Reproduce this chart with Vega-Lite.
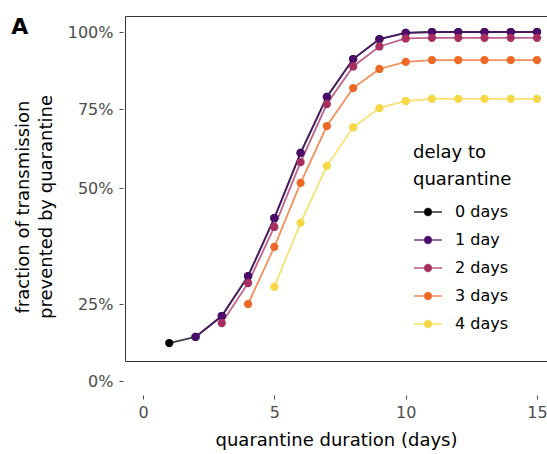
{
  "$schema": "https://vega.github.io/schema/vega-lite/v6.json",
  "autosize": {"type": "none"},
  "padding": {"left": 125, "top": 16, "right": 0, "bottom": 93},
  "width": 422,
  "height": 345,
  "config": {
    "font": "DejaVu Sans",
    "view": {"stroke": "#333333", "strokeWidth": 1}
  },
  "title": {
    "text": "A",
    "anchor": "start",
    "frame": "bounds",
    "orient": "top",
    "offset": 0,
    "dy": 23,
    "dx": -3,
    "fontSize": 22,
    "fontWeight": "bold",
    "color": "#000000"
  },
  "data": {
    "values": [
      {"d": 1, "delay": "0 days", "frac": 0.123},
      {"d": 2, "delay": "0 days", "frac": 0.143},
      {"d": 3, "delay": "0 days", "frac": 0.211},
      {"d": 4, "delay": "0 days", "frac": 0.31},
      {"d": 5, "delay": "0 days", "frac": 0.435},
      {"d": 6, "delay": "0 days", "frac": 0.611},
      {"d": 7, "delay": "0 days", "frac": 0.789},
      {"d": 8, "delay": "0 days", "frac": 0.912},
      {"d": 9, "delay": "0 days", "frac": 0.977},
      {"d": 10, "delay": "0 days", "frac": 0.997},
      {"d": 11, "delay": "0 days", "frac": 1.0},
      {"d": 12, "delay": "0 days", "frac": 1.0},
      {"d": 13, "delay": "0 days", "frac": 1.0},
      {"d": 14, "delay": "0 days", "frac": 1.0},
      {"d": 15, "delay": "0 days", "frac": 1.0},
      {"d": 2, "delay": "1 day", "frac": 0.143},
      {"d": 3, "delay": "1 day", "frac": 0.211},
      {"d": 4, "delay": "1 day", "frac": 0.31},
      {"d": 5, "delay": "1 day", "frac": 0.435},
      {"d": 6, "delay": "1 day", "frac": 0.611},
      {"d": 7, "delay": "1 day", "frac": 0.789},
      {"d": 8, "delay": "1 day", "frac": 0.912},
      {"d": 9, "delay": "1 day", "frac": 0.977},
      {"d": 10, "delay": "1 day", "frac": 0.997},
      {"d": 11, "delay": "1 day", "frac": 1.0},
      {"d": 12, "delay": "1 day", "frac": 1.0},
      {"d": 13, "delay": "1 day", "frac": 1.0},
      {"d": 14, "delay": "1 day", "frac": 1.0},
      {"d": 15, "delay": "1 day", "frac": 1.0},
      {"d": 3, "delay": "2 days", "frac": 0.188},
      {"d": 4, "delay": "2 days", "frac": 0.295},
      {"d": 5, "delay": "2 days", "frac": 0.416},
      {"d": 6, "delay": "2 days", "frac": 0.582},
      {"d": 7, "delay": "2 days", "frac": 0.766},
      {"d": 8, "delay": "2 days", "frac": 0.888},
      {"d": 9, "delay": "2 days", "frac": 0.953},
      {"d": 10, "delay": "2 days", "frac": 0.979},
      {"d": 11, "delay": "2 days", "frac": 0.981},
      {"d": 12, "delay": "2 days", "frac": 0.981},
      {"d": 13, "delay": "2 days", "frac": 0.981},
      {"d": 14, "delay": "2 days", "frac": 0.981},
      {"d": 15, "delay": "2 days", "frac": 0.981},
      {"d": 4, "delay": "3 days", "frac": 0.25},
      {"d": 5, "delay": "3 days", "frac": 0.373},
      {"d": 6, "delay": "3 days", "frac": 0.516},
      {"d": 7, "delay": "3 days", "frac": 0.696},
      {"d": 8, "delay": "3 days", "frac": 0.818},
      {"d": 9, "delay": "3 days", "frac": 0.88},
      {"d": 10, "delay": "3 days", "frac": 0.903},
      {"d": 11, "delay": "3 days", "frac": 0.909},
      {"d": 12, "delay": "3 days", "frac": 0.909},
      {"d": 13, "delay": "3 days", "frac": 0.909},
      {"d": 14, "delay": "3 days", "frac": 0.909},
      {"d": 15, "delay": "3 days", "frac": 0.909},
      {"d": 5, "delay": "4 days", "frac": 0.287},
      {"d": 6, "delay": "4 days", "frac": 0.425},
      {"d": 7, "delay": "4 days", "frac": 0.57},
      {"d": 8, "delay": "4 days", "frac": 0.692},
      {"d": 9, "delay": "4 days", "frac": 0.753},
      {"d": 10, "delay": "4 days", "frac": 0.776},
      {"d": 11, "delay": "4 days", "frac": 0.783},
      {"d": 12, "delay": "4 days", "frac": 0.783},
      {"d": 13, "delay": "4 days", "frac": 0.783},
      {"d": 14, "delay": "4 days", "frac": 0.783},
      {"d": 15, "delay": "4 days", "frac": 0.783}
    ]
  },
  "encoding": {
    "x": {
      "field": "d",
      "type": "quantitative",
      "scale": {"domain": [-0.685, 15.38], "nice": false, "zero": false},
      "axis": {
        "values": [0, 5, 10, 15],
        "title": "quarantine duration (days)",
        "offset": 34,
        "domain": false,
        "grid": false,
        "tickSize": 4,
        "tickColor": "#4d4d4d",
        "labelPadding": 5,
        "labelFontSize": 16,
        "labelColor": "#4d4d4d",
        "titleFontSize": 18,
        "titleFontWeight": "normal",
        "titleColor": "#000000",
        "titlePadding": 11
      }
    },
    "y": {
      "field": "frac",
      "type": "quantitative",
      "scale": {"domain": [0, 0.25, 0.5, 0.75, 1], "range": [365, 288, 172, 93, 16], "nice": false, "zero": false},
      "axis": {
        "values": [0, 0.25, 0.5, 0.75, 1],
        "format": ".0%",
        "title": ["fraction of transmission", "prevented by quarantine"],
        "offset": 2,
        "domain": false,
        "grid": false,
        "tickSize": 4,
        "tickColor": "#4d4d4d",
        "labelPadding": 6,
        "labelFontSize": 16,
        "labelColor": "#4d4d4d",
        "titleFontSize": 18,
        "titleFontWeight": "normal",
        "titleColor": "#000000",
        "titleLineHeight": 23,
        "titlePadding": 12
      }
    },
    "color": {
      "field": "delay",
      "type": "nominal",
      "scale": {
        "domain": ["0 days", "1 day", "2 days", "3 days", "4 days"],
        "range": ["#000004", "#4C0C6B", "#A82E5F", "#ED6925", "#F6D746"]
      },
      "legend": {
        "title": ["delay to", "quarantine"],
        "orient": "none",
        "legendX": 288,
        "legendY": 128,
        "padding": 0,
        "titleFontSize": 18,
        "titleFontWeight": "normal",
        "titleColor": "#000000",
        "titleLineHeight": 27,
        "titlePadding": 8,
        "labelFontSize": 16,
        "labelColor": "#000000",
        "labelOffset": 12,
        "rowPadding": 5,
        "symbolSize": 784,
        "symbolOpacity": 1,
        "symbolStrokeWidth": 1.6,
        "symbolType": "M-1,0H1M-0.25,0A0.25,0.25,0,1,1,0.25,0A0.25,0.25,0,1,1,-0.25,0Z",
        "encode": {
          "symbols": {
            "update": {
              "fill": {"scale": "color", "field": "value"},
              "stroke": {"scale": "color", "field": "value"},
              "opacity": {"value": 1},
              "fillOpacity": {"value": 1},
              "strokeOpacity": {"value": 0.8}
            }
          }
        }
      }
    }
  },
  "layer": [
    {
      "mark": {"type": "line", "strokeWidth": 1.8, "opacity": 0.75}
    },
    {
      "mark": {"type": "circle", "size": 68, "opacity": 1}
    }
  ]
}
